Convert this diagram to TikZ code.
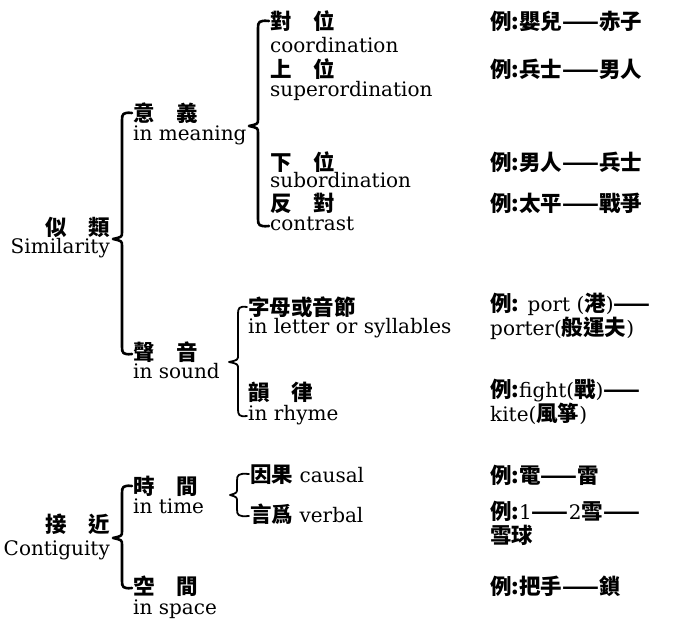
\documentclass[tikz,border=0pt]{standalone}
\usepackage{fontspec}
\setmainfont{DejaVu Serif}
\newfontfamily\cjk{Noto Sans CJK TC}[Scale=1.075]
\newcommand\zh[1]{{\cjk\bfseries #1}}
\usetikzlibrary{calc}
\tikzset{
  en/.style={anchor=west, inner sep=0pt, font=\fontsize{20}{22}\selectfont, text height=10.4pt, text depth=0pt},
  zhl/.style={anchor=west, inner sep=0pt, font=\fontsize{20}{22}\selectfont, text height=18.5pt, text depth=2.5pt},
  zhs/.style={anchor=west, inner sep=0pt, font=\fontsize{20}{22}\selectfont, text height=15pt, text depth=1pt},
  bline/.style={line width=2.6pt, line cap=round, line join=round, black},
  thinb/.style={line width=1.8pt}
}
\newcommand\mybrace[5][]{%
  \draw[bline,#1] let \p1=(#3.west), \p2=(#4), \p3=(#5.west) in
  (\x1-1pt,\y1+1pt) .. controls (#2+1pt,\y1+2pt) and (#2,\y1) .. (#2,\y1-6pt)
  -- (#2,\y2+7pt) .. controls (#2,\y2+2pt) .. (\x2,\y2)
  .. controls (#2,\y2-2pt) .. (#2,\y2-7pt)
  -- (#2,\y3+6pt) .. controls (#2,\y3) and (#2+1pt,\y3-2pt) .. (\x3-1pt,\y3-1pt);
}
\begin{document}
\begin{tikzpicture}[x=1pt,y=1pt]
\useasboundingbox (0,0) rectangle (673,619);
% column 1
\node[zhl, anchor=east] (simZ) at (110,391) {\zh{似　類}};
\node[en, anchor=east] (simE) at (110,371) {Similarity};
\node[zhl, anchor=east] (conZ) at (110,94) {\zh{接　近}};
\node[en, anchor=east] (conE) at (110,69) {Contiguity};
% column 2
\node[zhl] (mnZ) at (133,505) {\zh{意　義}};
\node[en] (mnE) at (133,484) {in meaning};
\node[zhl] (sdZ) at (133,266) {\zh{聲　音}};
\node[en] (sdE) at (133,246) {in sound};
\node[zhl] (tmZ) at (133,132) {\zh{時　間}};
\node[en] (tmE) at (133,111) {in time};
\node[zhl] (spZ) at (133,32) {\zh{空　間}};
\node[en] (spE) at (133,10) {in space};
% column 3: meaning
\node[zhl] (coZ) at (270,597) {\zh{對　位}};
\node[en] (coE) at (270,572) {coordination};
\node[zhl] (suZ) at (270,549) {\zh{上　位}};
\node[en] (suE) at (270,528) {superordination};
\node[zhl] (sbZ) at (270,456) {\zh{下　位}};
\node[en] (sbE) at (270,437) {subordination};
\node[zhl] (ctZ) at (270,415) {\zh{反　對}};
\node[en] (ctE) at (270,394) {contrast};
% column 3: sound
\node[zhl] (lZ) at (248,311) {\zh{字母或音節}};
\node[en] (lE) at (248,291) {in letter or syllables};
\node[zhl] (rZ) at (248,226) {\zh{韻　律}};
\node[en] (rE) at (248,204) {in rhyme};
% column 3: time
\node[zhl] (caus) at (250,144) {\zh{因果} causal};
\node[zhl] (verb) at (250,104) {\zh{言爲} verbal};
% examples
\node[zhl] (e1) at (490,597) {\zh{例:嬰兒——赤子}};
\node[zhl] (e2) at (490,549) {\zh{例:兵士——男人}};
\node[zhl] (e3) at (490,456) {\zh{例:男人——兵士}};
\node[zhl] (e4) at (490,415) {\zh{例:太平——戰爭}};
\node[zhs] (e5) at (490,314) {\zh{例:} port (\zh{港})\zh{——}};
\node[zhs] (e5b) at (490,290) {porter(\zh{般運夫})};
\node[zhs] (e6) at (490,228) {\zh{例:}fight(\zh{戰})\zh{——}};
\node[zhs] (e6b) at (490,204) {kite(\zh{風箏})};
\node[zhl] (e7) at (490,143) {\zh{例:電——雷}};
\node[zhs] (e8) at (490,106) {\zh{例:}1\zh{——}2\zh{雪——}};
\node[zhs] (e8b) at (490,82) {\zh{雪球}};
\node[zhl] (e9) at (490,32) {\zh{例:把手——鎖}};
% brace tips
\coordinate (simtip) at (113,380);
\coordinate (contip) at (113,81);
\coordinate (mntip) at (249,493);
\coordinate (sdtip) at (229,257);
\coordinate (tmtip) at (230,124);
% braces
\mybrace{122pt}{mnZ}{simtip}{sdZ}
\mybrace{258pt}{coZ}{mntip}{ctE}
\mybrace[thinb]{238pt}{lZ}{sdtip}{rE}
\mybrace{122pt}{tmZ}{contip}{spZ}
\mybrace[thinb]{237pt}{caus}{tmtip}{verb}
\end{tikzpicture}
\end{document}
